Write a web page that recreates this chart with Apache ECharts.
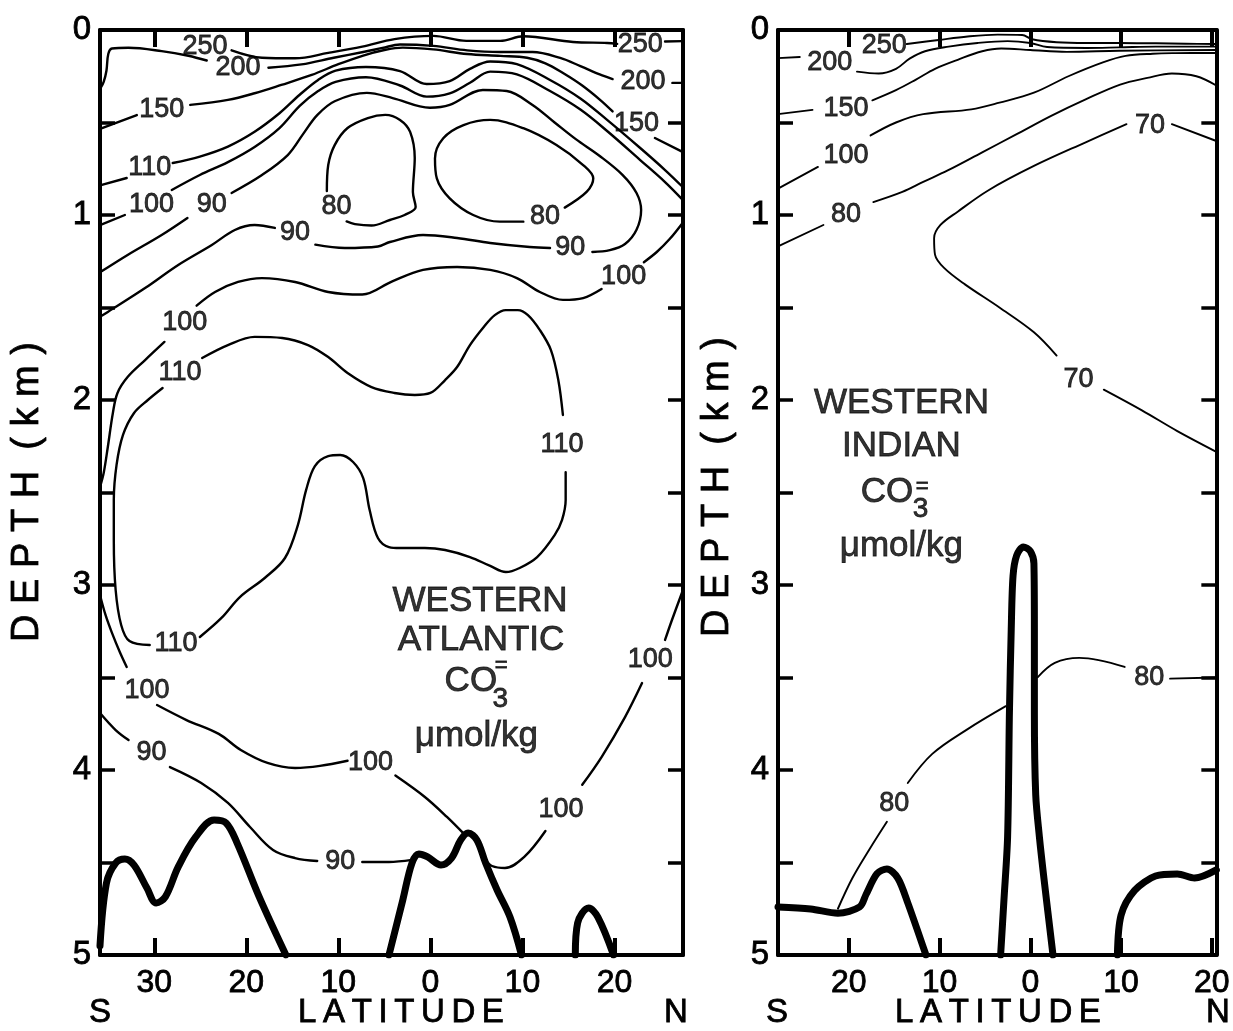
<!DOCTYPE html>
<html><head><meta charset="utf-8">
<script src="https://cdn.jsdelivr.net/npm/echarts@6/dist/echarts.min.js"></script>
<style>html,body{margin:0;padding:0;background:#fff}#c{width:1233px;height:1031px}</style>
</head><body><div id="c"></div>
<script>
// ---------- Axis ticks ----------
const atlLatTicks = [-30, -20, -10, 0, 10, 20];
const indLatTicks = [-20, -10, 0, 10, 20];
const atlLatRange = [-35.9, 27.45];
const indLatRange = [-27.8, 20.5];
const depthRange = [0, 5];

// ---------- Western Atlantic contours [lat, depth km] ----------
const atl250a = [[-21.6,0.11],[-18.3,0.15],[-14.7,0.153],[-11.1,0.124],[-7.4,0.09],[-3.9,0.049],[0.3,0.032],[3.9,0.059],[7.6,0.059],[10.1,0.034],[15.5,0.065],[19.2,0.07],[20.3,0.075]];
const atl250b = [[25.5,0.062],[27.45,0.06]];
const atl200a = [[-35.8,0.31],[-35.5,0.28],[-35.2,0.22],[-35.0,0.13],[-34.6,0.1],[-32.8,0.096],[-29.2,0.114],[-26.3,0.139],[-24.3,0.165]];
const atl200b = [[-17.6,0.204],[-14.0,0.186],[-10.5,0.15],[-7.3,0.119],[-5.2,0.097],[-3.3,0.078],[0.3,0.086],[4.0,0.11],[7.6,0.119],[11.1,0.119],[14.1,0.151],[16.3,0.195],[18.4,0.24],[19.8,0.265]];
const atl200c = [[26.3,0.286],[27.45,0.286]];
const atl150a = [[-35.9,0.535],[-31.9,0.46]];
const atl150b = [[-26.1,0.405],[-22.0,0.378],[-19.1,0.342],[-16.2,0.297],[-12.9,0.243],[-10.0,0.185],[-7.3,0.138],[-5.0,0.108],[-3.0,0.095],[0.3,0.105],[4.0,0.13],[7.6,0.14],[10.5,0.15],[12.5,0.18],[14.5,0.235],[16.5,0.3],[18.5,0.38],[19.8,0.44]];
const atl150c = [[24.4,0.584],[27.45,0.66]];
const atl110a = [[-35.9,0.84],[-33.0,0.80]];
const atl110b = [[-28.0,0.719],[-25.05,0.684],[-22.0,0.63],[-19.1,0.55],[-16.4,0.45],[-14.2,0.35],[-12.2,0.27],[-10.3,0.22],[-7.0,0.2],[-3.3,0.222],[-0.4,0.292],[2.1,0.276],[4.3,0.21],[6.5,0.17],[9.4,0.185],[13.0,0.27],[16.3,0.37],[19.3,0.49],[22.8,0.638],[25.5,0.757],[27.45,0.85]];
const atl100a = [[-35.9,1.055],[-33.2,1.0]];
const atl100b = [[-28.1,0.865],[-25.05,0.784],[-22.0,0.714],[-19.1,0.632],[-16.4,0.53],[-14.2,0.41],[-12.2,0.33],[-10.3,0.28],[-7.0,0.255],[-3.3,0.3],[-0.4,0.36],[2.1,0.342],[4.3,0.285],[6.5,0.225],[9.4,0.24],[13.0,0.33],[16.3,0.43],[19.3,0.55],[22.8,0.703],[25.5,0.822],[27.45,0.92]];
const atl90a = [[-35.9,1.31],[-32.9,1.216],[-29.2,1.108],[-26.4,1.016]];
const atl90b = [[-21.6,0.881],[-18.3,0.784],[-15.5,0.676],[-13.8,0.56],[-12.3,0.46],[-10.4,0.385],[-6.9,0.34],[-4.1,0.368],[-0.05,0.42],[2.1,0.405],[5.7,0.324],[8.3,0.33],[11.1,0.405],[13.5,0.5],[15.8,0.59],[18.4,0.681],[20.9,0.784],[22.4,0.881],[22.9,0.973],[22.4,1.08],[21.15,1.157],[19.5,1.19],[17.6,1.2]];
const atl90c = [[13.0,1.178],[10.8,1.173],[6.5,1.151],[2.9,1.124],[-0.8,1.108],[-4.4,1.146],[-5.7,1.17],[-9.3,1.178],[-12.5,1.16]];
const atl90d = [[-16.9,1.07],[-19.1,1.054],[-21.25,1.081],[-23.75,1.162],[-27.4,1.27],[-31.0,1.395],[-35.05,1.524],[-35.9,1.55]];
const atl80a = [[-11.25,0.87],[-11.1,0.73],[-10.4,0.622],[-9.0,0.53],[-6.8,0.476],[-4.9,0.459],[-3.3,0.486],[-2.2,0.551],[-1.7,0.692],[-1.9,0.876],[-1.6,0.957],[-2.8,1.0],[-4.4,1.027],[-6.4,1.057],[-8.2,1.049],[-9.1,1.035]];
const atl80b = [[14.6,0.96],[17.0,0.874],[17.7,0.802],[16.6,0.73],[13.7,0.622],[10.1,0.531],[6.5,0.486],[3.6,0.514],[1.4,0.585],[0.5,0.694],[0.7,0.802],[2.1,0.91],[4.65,1.0],[7.55,1.036],[10.1,1.036]];
const atl100c = [[27.45,1.04],[26.0,1.13],[24.6,1.2],[23.2,1.255]];
const atl100d = [[18.6,1.4],[16.6,1.449],[14.4,1.459],[11.9,1.416],[9.4,1.341],[6.5,1.297],[2.9,1.281],[-0.8,1.297],[-4.2,1.36],[-7.4,1.43],[-11.1,1.416],[-14.7,1.362],[-18.3,1.341],[-20.9,1.362],[-23.4,1.416],[-25.4,1.49]];
const atl100e = [[-28.9,1.686],[-31.0,1.784],[-32.9,1.876],[-34.0,1.962],[-34.5,2.07],[-35.05,2.254],[-35.5,2.395],[-35.9,2.47]];
const atl110c = [[-24.8,1.773],[-22.0,1.703],[-19.1,1.659],[-16.1,1.665],[-13.3,1.703],[-11.1,1.768],[-9.0,1.854],[-6.4,1.93],[-3.9,1.962],[-1.7,1.973],[0,1.962],[1.6,1.892],[2.9,1.822],[4.3,1.703],[5.8,1.605],[7.0,1.541],[8.2,1.514],[9.5,1.514],[10.6,1.541],[11.9,1.622],[13.1,1.73],[13.9,1.892],[14.4,2.081]];
const atl110d = [[14.7,2.39],[14.7,2.541],[14.3,2.649],[13.5,2.73],[11.6,2.849],[9.7,2.908],[8.2,2.93],[6.5,2.897],[4.3,2.849],[1.6,2.811],[-0.6,2.8],[-3.3,2.8],[-4.5,2.795],[-5.7,2.746],[-6.6,2.595],[-7.3,2.422],[-8.4,2.335],[-9.8,2.297],[-11.1,2.303],[-12.55,2.357],[-13.5,2.486],[-14.4,2.676],[-15.8,2.854],[-18.0,2.962],[-20.7,3.065],[-22.7,3.178],[-25.05,3.281]];
const atl110e = [[-30.5,3.324],[-32.7,3.303],[-33.6,3.216],[-34.2,3.027],[-34.4,2.757],[-34.4,2.541],[-34.1,2.351],[-33.4,2.189],[-32.2,2.07],[-30.7,2.0],[-29.1,1.935]];
const atl100f = [[-35.9,3.054],[-35.3,3.162],[-34.6,3.259],[-33.75,3.362],[-33.0,3.443]];
const atl100g = [[-29.7,3.649],[-26.5,3.73],[-23.0,3.805],[-20.6,3.892],[-17.7,3.962],[-14.7,3.989],[-12.0,3.978],[-9.0,3.95]];
const atl100h = [[-3.8,4.03],[-0.6,4.146],[1.8,4.254],[3.75,4.351]];
const atl90e = [[-35.9,3.692],[-34.2,3.784],[-32.8,3.838]];
const atl90f = [[-28.3,3.984],[-24.9,4.07],[-22.0,4.178],[-19.6,4.308],[-17.1,4.432],[-14.7,4.476],[-12.3,4.492]];
const atl90g = [[-7.4,4.497],[-4.5,4.497],[-2.0,4.486]];
const atl100i = [[27.45,3.027],[26.25,3.189],[25.5,3.297]];
const atl100j = [[23.0,3.53],[21.15,3.714],[18.6,3.93],[16.5,4.08]];
const atl100k = [[12.5,4.33],[10.2,4.47],[8.1,4.53],[6.7,4.519],[6.0,4.486]];
// sea floor
const atlBed1 = [[-35.9,4.95],[-35.2,4.611],[-34.2,4.503],[-33.2,4.481],[-32.2,4.514],[-30.8,4.638],[-29.8,4.719],[-28.8,4.686],[-27.4,4.524],[-25.5,4.362],[-23.5,4.27],[-22.2,4.286],[-21.0,4.395],[-18.6,4.686],[-15.7,5.0]];
const atlBed2 = [[-4.5,5.0],[-3.0,4.703],[-2.0,4.503],[-1.25,4.454],[-0.3,4.47],[1.15,4.514],[2.3,4.476],[3.3,4.378],[4.1,4.341],[5.05,4.378],[6.0,4.503],[7.25,4.649],[8.65,4.795],[9.9,5.0]];
const atlBed3 = [[15.75,5.0],[16.0,4.827],[17.2,4.746],[18.2,4.795],[19.9,5.0]];
// contour labels [lat, depth, text]
const atlLabels = [[-24.5,0.092,'250'],[22.8,0.08,'250'],[-20.9,0.205,'200'],[23.1,0.277,'200'],[-29.2,0.432,'150'],[22.4,0.503,'150'],[-30.5,0.746,'110'],[-30.3,0.946,'100'],[-23.75,0.946,'90'],[-10.2,0.957,'80'],[12.45,1.009,'80'],[15.2,1.178,'90'],[-14.7,1.097,'90'],[21.0,1.33,'100'],[-26.7,1.584,'100'],[-27.2,1.854,'110'],[14.3,2.243,'110'],[-27.65,3.314,'110'],[-30.8,3.568,'100'],[-30.3,3.908,'90'],[-6.5,3.962,'100'],[-9.8,4.497,'90'],[23.9,3.405,'100'],[14.2,4.216,'100']];
const atlTitle = [[5.4,3.09,'WESTERN'],[5.5,3.30,'ATLANTIC'],[4.4,3.52,'CO'],[5.0,3.82,'μmol/kg']];
const atlSub = [[7.6,3.62,'3']];
const atlSup = [[7.7,3.44,'=']];

// ---------- Western Indian contours ----------
const ind250a = [[-13.6,0.076],[-10.1,0.054],[-6.9,0.035],[-3.6,0.025],[-0.9,0.027],[0.2,0.05],[2.9,0.066],[6.2,0.07],[9.8,0.07],[13.85,0.072],[17.1,0.074],[20.5,0.076]];
const ind200a = [[-27.8,0.152],[-25.4,0.146]];
const ind200b = [[-19.1,0.225],[-16.7,0.235],[-14.8,0.21],[-13.3,0.155],[-11.6,0.115],[-9.0,0.09],[-5.8,0.07],[-2.5,0.06],[0,0.07],[1.85,0.092],[6.2,0.097],[9.8,0.094],[13.85,0.09],[20.5,0.09]];
const ind150a = [[-27.8,0.455],[-24.0,0.432]];
const ind150b = [[-17.4,0.38],[-14.8,0.325],[-12.6,0.268],[-10.5,0.21],[-8.0,0.161],[-5.3,0.115],[-3.2,0.1],[0,0.108],[4.0,0.118],[9.8,0.112],[20.5,0.108]];
const ind100a = [[-27.8,0.857],[-23.4,0.74]];
const ind100b = [[-17.6,0.57],[-14.8,0.5],[-11.8,0.455],[-6.5,0.429],[-3.4,0.393],[0.4,0.339],[4.2,0.25],[8.0,0.175],[10.5,0.14],[13.5,0.128],[16.0,0.125],[20.5,0.124]];
const ind80a = [[-27.8,1.17],[-22.8,1.054]];
const ind80b = [[-17.3,0.93],[-14.1,0.875],[-11.8,0.821],[-9.1,0.759],[-5.3,0.661],[-1.5,0.563],[2.3,0.464],[6.1,0.375],[9.9,0.295],[12.9,0.259],[15.6,0.235],[18.3,0.25],[20.5,0.3]];
const ind70a = [[10.6,0.509],[6.1,0.607],[0.4,0.735],[-4.6,0.866],[-8.0,0.982],[-9.9,1.054],[-10.6,1.125],[-10.5,1.214],[-9.5,1.286],[-7.2,1.375],[-3.4,1.5],[0.4,1.634],[2.9,1.76]];
const ind70b = [[15.6,0.509],[20.5,0.6]];
const ind70c = [[8.1,1.944],[12.3,2.056],[16.2,2.168],[20.5,2.28]];
const ind80c = [[20.5,3.5],[15.4,3.506]];
const ind80d = [[10.4,3.443],[5.4,3.394],[2.7,3.421],[0.8,3.499]];
const ind80e = [[-2.7,3.655],[-6.9,3.779],[-10.8,3.913],[-13.5,4.07]];
const ind80f = [[-15.8,4.28],[-17.7,4.427],[-19.6,4.584],[-21.2,4.75]];
const indBed1 = [[-27.8,4.74],[-24.2,4.751],[-21.2,4.774],[-18.8,4.74],[-18.1,4.673],[-16.9,4.561],[-15.8,4.535],[-14.6,4.584],[-13.5,4.718],[-11.5,5.0]];
const indBed2 = [[-3.27,5.0],[-2.9,4.7],[-2.5,4.36],[-2.3,3.69],[-2.1,3.24],[-1.9,2.95],[-1.5,2.84],[-0.77,2.794],[0,2.817],[0.4,2.884],[0.45,3.24],[0.45,3.69],[0.6,4.136],[1.0,4.36],[1.5,4.584],[2.5,5.0]];
const indBed3 = [[9.6,5.0],[10.0,4.785],[11.5,4.651],[13.8,4.573],[16.2,4.562],[18.1,4.584],[20.5,4.54]];
const indLabels = [[-16.1,0.086,'250'],[-22.1,0.178,'200'],[-20.3,0.422,'150'],[-20.3,0.676,'100'],[-20.3,0.995,'80'],[13.2,0.515,'70'],[5.3,1.89,'70'],[13.1,3.5,'80'],[-15.0,4.18,'80']];
const indTitle = [[-14.2,2.02,'WESTERN'],[-14.2,2.25,'INDIAN'],[-15.8,2.5,'CO'],[-14.2,2.79,'μmol/kg']];
const indSub = [[-12.1,2.59,'3']];
const indSup = [[-11.9,2.47,'=']];

// ---------- build ----------
const FONT = '"Liberation Sans", Arial, sans-serif';
const atlContours = [atl250a,atl250b,atl200a,atl200b,atl200c,atl150a,atl150b,atl150c,atl110a,atl110b,atl100a,atl100b,atl90a,atl90b,atl90c,atl90d,atl80a,atl80b,atl100c,atl100d,atl100e,atl110c,atl110d,atl110e,atl100f,atl100g,atl100h,atl90e,atl90f,atl90g,atl100i,atl100j,atl100k];
const atlBeds = [atlBed1, atlBed2, atlBed3];
const indContours = [ind250a,ind200a,ind200b,ind150a,ind150b,ind100a,ind100b,ind80a,ind80b,ind70a,ind70b,ind70c,ind80c,ind80d,ind80e,ind80f];
const indBeds = [indBed1, indBed2, indBed3];

function lineS(data, g, width, smooth) {
  return {type:'line', xAxisIndex:g*2, yAxisIndex:g*2, data, smooth:smooth, symbol:'none',
    lineStyle:{color:'#000', width:width, cap:'round', join:'round'}, silent:true, animation:false, z:3};
}
function textS(data, g, size) {
  return {type:'scatter', xAxisIndex:g*2, yAxisIndex:g*2, data, symbolSize:1,
    itemStyle:{color:'rgba(0,0,0,0)'}, silent:true, animation:false, z:5,
    label:{show:true, position:'inside', formatter:p => p.data[2], fontSize:size, color:'#000',
      textBorderColor:'#000', textBorderWidth:0.8, fontFamily:FONT}};
}
function xAx(g, pos, range, ticks, labels) {
  return {type:'value', gridIndex:g, position:pos, min:range[0], max:range[1],
    axisLine:{show:true, onZero:false, lineStyle:{color:'#000', width:4}},
    axisTick:{show:true, inside:true, length:17, customValues:ticks, lineStyle:{color:'#000', width:4}},
    axisLabel:{show:labels, customValues:ticks, formatter:v => String(Math.abs(v)), fontSize:32, color:'#000',
      textBorderColor:'#000', textBorderWidth:0.8, fontFamily:FONT, margin:12},
    splitLine:{show:false}};
}
function yAx(g, pos, labels) {
  return {type:'value', gridIndex:g, position:pos, min:depthRange[0], max:depthRange[1], interval:0.5, inverse:true,
    axisLine:{show:true, onZero:false, lineStyle:{color:'#000', width:4}},
    axisTick:{show:true, inside:true, length:15, lineStyle:{color:'#000', width:3.5}},
    axisLabel:{show:labels, formatter:v => (Math.abs(v - Math.round(v)) < 1e-6 ? String(Math.round(v)) : ''), fontSize:33, color:'#000',
      textBorderColor:'#000', textBorderWidth:0.8, fontFamily:FONT, margin:9},
    splitLine:{show:false}};
}

const series = [];
atlContours.forEach(d => series.push(lineS(d, 0, 2.4, 0.35)));
atlBeds.forEach(d => series.push(lineS(d, 0, 7, 0.35)));
indContours.forEach(d => series.push(lineS(d, 1, 1.9, 0.35)));
indBeds.forEach(d => series.push(lineS(d, 1, 7, 0.3)));
series.push(textS(atlLabels, 0, 27), textS(atlTitle, 0, 35), textS(atlSub, 0, 28), textS(atlSup, 0, 22));
series.push(textS(indLabels, 1, 27), textS(indTitle, 1, 35), textS(indSub, 1, 28), textS(indSup, 1, 22));

const txt = (x, y, t, size, rot) => ({type:'text', x, y, rotation:rot || 0, z:10,
  style:{text:t, fill:'#000', stroke:'#000', lineWidth:0.8, font:size + 'px ' + FONT, textAlign:'center', textVerticalAlign:'middle'}});

const option = {
  backgroundColor:'#fff',
  animation:false,
  grid:[{left:100, top:30, width:583, height:925}, {left:778, top:30, width:443, height:925}],
  xAxis:[xAx(0,'bottom',atlLatRange,atlLatTicks,true), xAx(0,'top',atlLatRange,atlLatTicks,false),
         xAx(1,'bottom',indLatRange,indLatTicks,true), xAx(1,'top',indLatRange,indLatTicks,false)],
  yAxis:[yAx(0,'left',true), yAx(0,'right',false), yAx(1,'left',true), yAx(1,'right',false)],
  series,
  graphic:[
    txt(100, 1013, 'S', 33), txt(401, 1013, 'L\u2009A\u2009T\u2009I\u2009T\u2009U\u2009D\u2009E', 33), txt(676, 1013, 'N', 33),
    txt(777, 1013, 'S', 33), txt(998, 1013, 'L\u2009A\u2009T\u2009I\u2009T\u2009U\u2009D\u2009E', 33), txt(1218, 1013, 'N', 33),
    txt(28, 492, 'D E P T H  ( k m )', 38, Math.PI/2),
    txt(718, 487, 'D E P T H  ( k m )', 38, Math.PI/2)
  ]
};
const chart = echarts.init(document.getElementById('c'), null, {renderer:'canvas'});
chart.setOption(option);
</script></body></html>
